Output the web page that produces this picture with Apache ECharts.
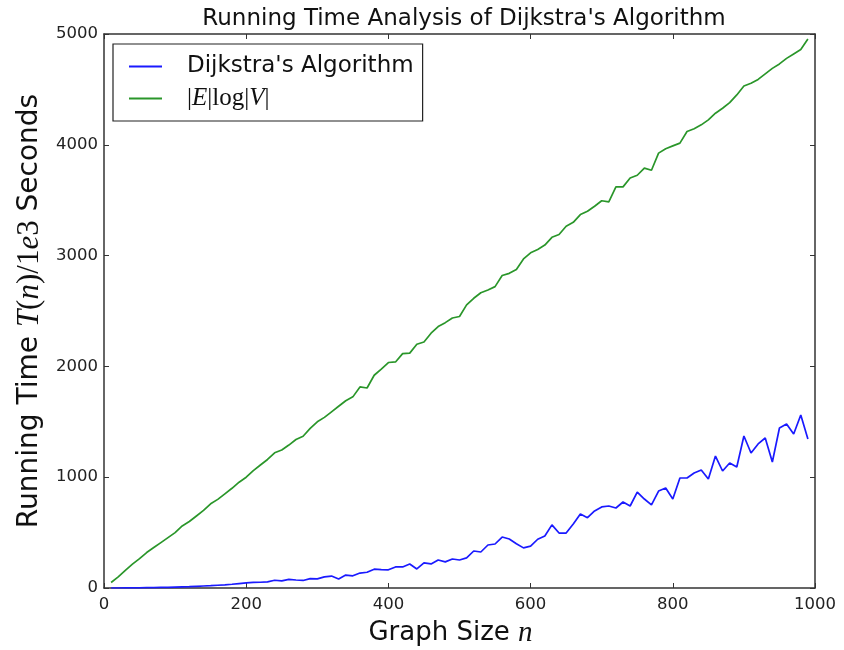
<!DOCTYPE html>
<html>
<head>
<meta charset="utf-8">
<script src="https://cdn.jsdelivr.net/npm/echarts@6/dist/echarts.min.js"></script>
<style>html,body{margin:0;padding:0;background:#fff}#c{width:844px;height:650px}</style>
</head>
<body>
<div id="c"></div>
<script>
var graphSizes = [10,20,30,40,50,60,70,80,90,100,110,120,130,140,150,160,170,180,190,200,
210,220,230,240,250,260,270,280,290,300,310,320,330,340,350,360,370,380,390,400,
410,420,430,440,450,460,470,480,490,500,510,520,530,540,550,560,570,580,590,600,
610,620,630,640,650,660,670,680,690,700,710,720,730,740,750,760,770,780,790,800,
810,820,830,840,850,860,870,880,890,900,910,920,930,940,950,960,970,980,990];

var dijkstraTimes = [0,0,1,1,2,3,4,5,6,8,10,12,15,18,21,25,29,34,40,46,
50,52,55,70,65,78,72,68,84,82,100,108,82,117,110,135,142,170,165,164,
190,190,217,172,226,217,253,236,262,253,272,334,325,388,397,460,442,400,362,378,
440,470,570,496,496,578,668,635,695,732,740,722,776,740,866,803,750,875,902,803,
993,993,1038,1065,984,1191,1056,1128,1092,1372,1218,1300,1354,1137,1444,1480,1390,1561,1345];

var elogvValues = [50,100,160,215,265,320,365,410,455,500,560,600,650,700,760,800,850,900,955,1000,
1060,1110,1160,1220,1245,1290,1340,1370,1440,1500,1540,1590,1640,1690,1725,1815,1805,1920,1975,2035,
2040,2115,2120,2200,2220,2300,2360,2395,2437,2450,2555,2615,2665,2690,2720,2820,2840,2875,2970,3025,
3055,3095,3165,3190,3265,3300,3370,3400,3445,3495,3485,3620,3620,3700,3725,3790,3770,3925,3965,3990,
4015,4120,4145,4180,4225,4285,4330,4380,4450,4530,4555,4590,4640,4690,4730,4780,4820,4860,4955];

var xTicks = [0,200,400,600,800,1000];
var yTicks = [0,1000,2000,3000,4000,5000];

function pairs(xs, ys){ return xs.map(function(x,i){ return [x, ys[i]]; }); }
function plain(v){ return String(v); }

var chart = echarts.init(document.getElementById('c'), null, {renderer:'canvas'});
var frame = {show:true, onZero:false, lineStyle:{color:'#333', width:1.5}};
var tickIn = {show:true, inside:true, length:5, lineStyle:{color:'#333', width:1}};

chart.setOption({
  animation:false,
  backgroundColor:'#fff',
  title:{
    text:"Running Time Analysis of Dijkstra's Algorithm",
    left:459, top:3, textAlign:'center',
    textStyle:{fontFamily:'DejaVu Sans', fontSize:23, fontWeight:'normal', color:'#111'}
  },
  grid:{left:104, right:29, top:34, bottom:62, containLabel:false, outerBoundsMode:'none'},
  legend:{
    orient:'vertical', left:113, top:44,
    padding:[11,9,10,16],
    backgroundColor:'#fff', borderColor:'#222', borderWidth:1.2, borderRadius:0,
    itemWidth:33, itemHeight:2, itemGap:8, icon:'rect',
    data:["Dijkstra's Algorithm", 'elogv'],
    formatter:function(name){
      if(name==='elogv') return '{p||}{i|E}{r||log|}{i|V}{r||}';
      return '{s|'+name+'}';
    },
    textStyle:{
      color:'#111',
      rich:{
        s:{fontFamily:'DejaVu Sans', fontSize:23, padding:[0,0,0,20], color:'#111', height:26},
        p:{fontFamily:'Liberation Serif', fontSize:25, padding:[0,0,0,20], color:'#111', height:26},
        i:{fontFamily:'Liberation Serif', fontStyle:'italic', fontSize:25, color:'#111', height:26},
        r:{fontFamily:'Liberation Serif', fontSize:25, color:'#111', height:26}
      }
    }
  },
  xAxis:[{
    type:'value', min:0, max:1000, interval:200, position:'bottom',
    axisLine:frame, axisTick:tickIn, splitLine:{show:false},
    axisLabel:{fontFamily:'DejaVu Sans', fontSize:16.5, color:'#222', margin:8, formatter:plain},
    name:'{s|Graph Size }{i|n}', nameLocation:'middle', nameGap:31,
    nameTextStyle:{rich:{
      s:{fontFamily:'DejaVu Sans', fontSize:26, color:'#111'},
      i:{fontFamily:'Liberation Serif', fontStyle:'italic', fontSize:29, color:'#111', padding:[0,18,0,0]}
    }}
  },{
    type:'value', min:0, max:1000, interval:200, position:'top',
    axisLine:frame, axisTick:tickIn, axisLabel:{show:false}, splitLine:{show:false}
  }],
  yAxis:[{
    type:'value', min:0, max:5000, interval:1000, position:'left',
    axisLine:frame, axisTick:tickIn, splitLine:{show:false},
    axisLabel:{fontFamily:'DejaVu Sans', fontSize:16.5, color:'#222', margin:6, formatter:plain},
    name:'{s|Running Time }{i|T}{r|(}{i|n}{r|)/1}{i|e}{r|3}{s| Seconds}',
    nameLocation:'middle', nameGap:47, nameRotate:90,
    nameTextStyle:{rich:{
      s:{fontFamily:'DejaVu Sans', fontSize:28, color:'#111'},
      i:{fontFamily:'Liberation Serif', fontStyle:'italic', fontSize:31, color:'#111'},
      r:{fontFamily:'Liberation Serif', fontSize:31, color:'#111'}
    }}
  },{
    type:'value', min:0, max:5000, interval:1000, position:'right',
    axisLine:frame, axisTick:tickIn, axisLabel:{show:false}, splitLine:{show:false}
  }],
  series:[{
    name:"Dijkstra's Algorithm", type:'line', showSymbol:false,
    data:pairs(graphSizes, dijkstraTimes),
    lineStyle:{color:'#1a1aff', width:1.7}, itemStyle:{color:'#1a1aff'}
  },{
    name:'elogv', type:'line', showSymbol:false,
    data:pairs(graphSizes, elogvValues),
    lineStyle:{color:'#2a962a', width:1.7}, itemStyle:{color:'#2a962a'}
  }]
});
</script>
</body>
</html>
